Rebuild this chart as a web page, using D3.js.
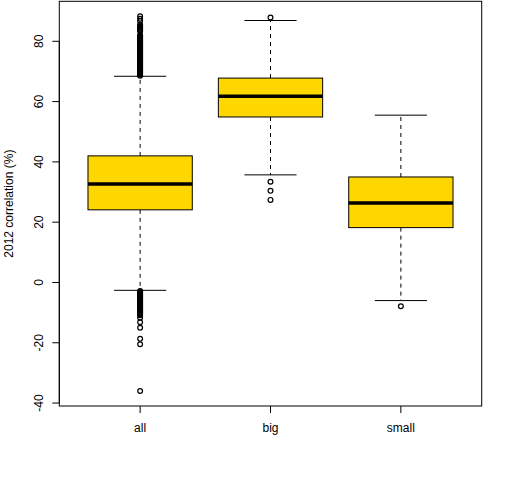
<!DOCTYPE html>
<html>
<head>
<meta charset="utf-8">
<script src="https://cdn.jsdelivr.net/npm/d3@7"></script>
<style>
  body { margin: 0; background: #fff; }
  text { font-family: "Liberation Sans", Arial, sans-serif; }
</style>
</head>
<body>
<div id="chart"></div>
<script>
const W = 512, H = 480

// groups and five-number summaries
const groups = ["all", "big", "small"]
const lowWhisker = [-2.6, 35.7, -6.0]
const q1 = [24.1, 54.9, 18.2]
const median = [32.7, 61.8, 26.4]
const q3 = [42.0, 67.8, 35.0]
const highWhisker = [68.4, 86.9, 55.5]

// outliers per group
const outAll = [68.6, 68.9, 69.2, 69.5, 69.8, 70.1, 70.4, 70.7, 71.0, 71.3, 71.6, 71.9,
  72.2, 72.5, 72.8, 73.1, 73.4, 73.7, 74.0, 74.3, 74.6, 74.9, 75.2, 75.5, 75.8, 76.1,
  76.4, 76.7, 77.0, 77.3, 77.6, 77.9, 78.2, 78.5, 78.8, 79.1, 79.4, 79.7, 80.0, 80.3,
  80.6, 80.9, 81.2, 81.5, 81.8, 82.0, 83.3, 83.6, 83.9, 84.2, 84.5, 84.8, 85.0,
  85.6, 86.7, 87.5, 88.3,
  -2.8, -3.1, -3.4, -3.7, -4.0, -4.3, -4.6, -4.9, -5.2, -5.5, -5.8, -6.1, -6.4, -6.7,
  -7.0, -7.3, -7.6, -7.9, -8.2, -8.5, -8.8, -9.1, -9.4, -9.7, -10.0, -10.3, -10.6,
  -10.9, -11.7, -13.2, -15.0, -18.7, -20.5, -36.0]
const outBig = [87.9, 33.4, 30.4, 27.4]
const outSmall = [-7.9]
const outliers = [outAll, outBig, outSmall]

const yTicks = [-40, -20, 0, 20, 40, 60, 80]
const yLabel = "2012 correlation (%)"

const plot = {left: 59.3, right: 481.7, top: 1.3, bottom: 406}

const svg = d3.select("#chart").append("svg")
  .attr("width", W)
  .attr("height", H)

// R style 4% padding on both axes
let allVals = outliers.flat().concat(lowWhisker, highWhisker)
let lo = d3.min(allVals), hi = d3.max(allVals)
let pad = (hi - lo) * 0.04
const y = d3.scaleLinear().domain([lo - pad, hi + pad]).range([plot.bottom, plot.top])
const xpad = groups.length * 0.04
const x = d3.scaleLinear().domain([0.5 - xpad, groups.length + 0.5 + xpad]).range([plot.left, plot.right])

const boxW = x(1.4) - x(1)   // half width of box
const capW = x(1.2) - x(1)   // half width of whisker cap

let g = svg.selectAll("g.grp")
  .data(groups)
  .enter()
  .append("g")
  .attr("class", "grp")

g.each(function(d, i) {
  let cx = x(i + 1)
  let gg = d3.select(this)
  // dashed whiskers
  gg.append("line")
    .attr("x1", cx).attr("x2", cx)
    .attr("y1", y(q3[i])).attr("y2", y(highWhisker[i]))
    .attr("stroke", "#000").attr("stroke-dasharray", "4,4")
  gg.append("line")
    .attr("x1", cx).attr("x2", cx)
    .attr("y1", y(q1[i])).attr("y2", y(lowWhisker[i]))
    .attr("stroke", "#000").attr("stroke-dasharray", "4,4")
  // caps
  ;[lowWhisker[i], highWhisker[i]].forEach(v => {
    gg.append("line")
      .attr("x1", cx - capW).attr("x2", cx + capW)
      .attr("y1", y(v)).attr("y2", y(v))
      .attr("stroke", "#000")
  })
  // box
  gg.append("rect")
    .attr("x", cx - boxW)
    .attr("y", y(q3[i]))
    .attr("width", boxW * 2)
    .attr("height", y(q1[i]) - y(q3[i]))
    .attr("fill", "#FFD700")
    .attr("stroke", "#000")
  gg.append("line")
    .attr("x1", cx - boxW).attr("x2", cx + boxW)
    .attr("y1", y(median[i])).attr("y2", y(median[i]))
    .attr("stroke", "#000").attr("stroke-width", 3.5)
  // outliers
  gg.selectAll("circle")
    .data(outliers[i])
    .enter()
    .append("circle")
    .attr("cx", cx)
    .attr("cy", v => y(v))
    .attr("r", 2.4)
    .attr("fill", "none")
    .attr("stroke", "#000")
    .attr("stroke-width", 1.2)
})

// frame
svg.append("rect")
  .attr("x", plot.left).attr("y", plot.top)
  .attr("width", plot.right - plot.left)
  .attr("height", plot.bottom - plot.top)
  .attr("fill", "none").attr("stroke", "#000")

// y axis
svg.append("line")
  .attr("x1", plot.left).attr("x2", plot.left)
  .attr("y1", y(-40)).attr("y2", y(80))
  .attr("stroke", "#000")
let yt = svg.selectAll("g.ytick")
  .data(yTicks)
  .enter()
  .append("g")
  .attr("class", "ytick")
yt.append("line")
  .attr("x1", plot.left - 7).attr("x2", plot.left)
  .attr("y1", d => y(d)).attr("y2", d => y(d))
  .attr("stroke", "#000")
yt.append("text")
  .attr("transform", d => "translate(43," + y(d) + ") rotate(-90)")
  .attr("text-anchor", "middle")
  .attr("font-size", 12)
  .text(d => d)

svg.append("text")
  .attr("transform", "translate(13," + ((plot.top + plot.bottom) / 2) + ") rotate(-90)")
  .attr("text-anchor", "middle")
  .attr("font-size", 12)
  .text(yLabel)

// x axis ticks
let xt = svg.selectAll("g.xtick")
  .data(groups)
  .enter()
  .append("g")
  .attr("class", "xtick")
xt.append("line")
  .attr("x1", (d, i) => x(i + 1)).attr("x2", (d, i) => x(i + 1))
  .attr("y1", plot.bottom).attr("y2", plot.bottom + 7)
  .attr("stroke", "#000")
xt.append("text")
  .attr("x", (d, i) => x(i + 1))
  .attr("y", 432)
  .attr("text-anchor", "middle")
  .attr("font-size", 12)
  .text(d => d)
</script>
</body>
</html>
